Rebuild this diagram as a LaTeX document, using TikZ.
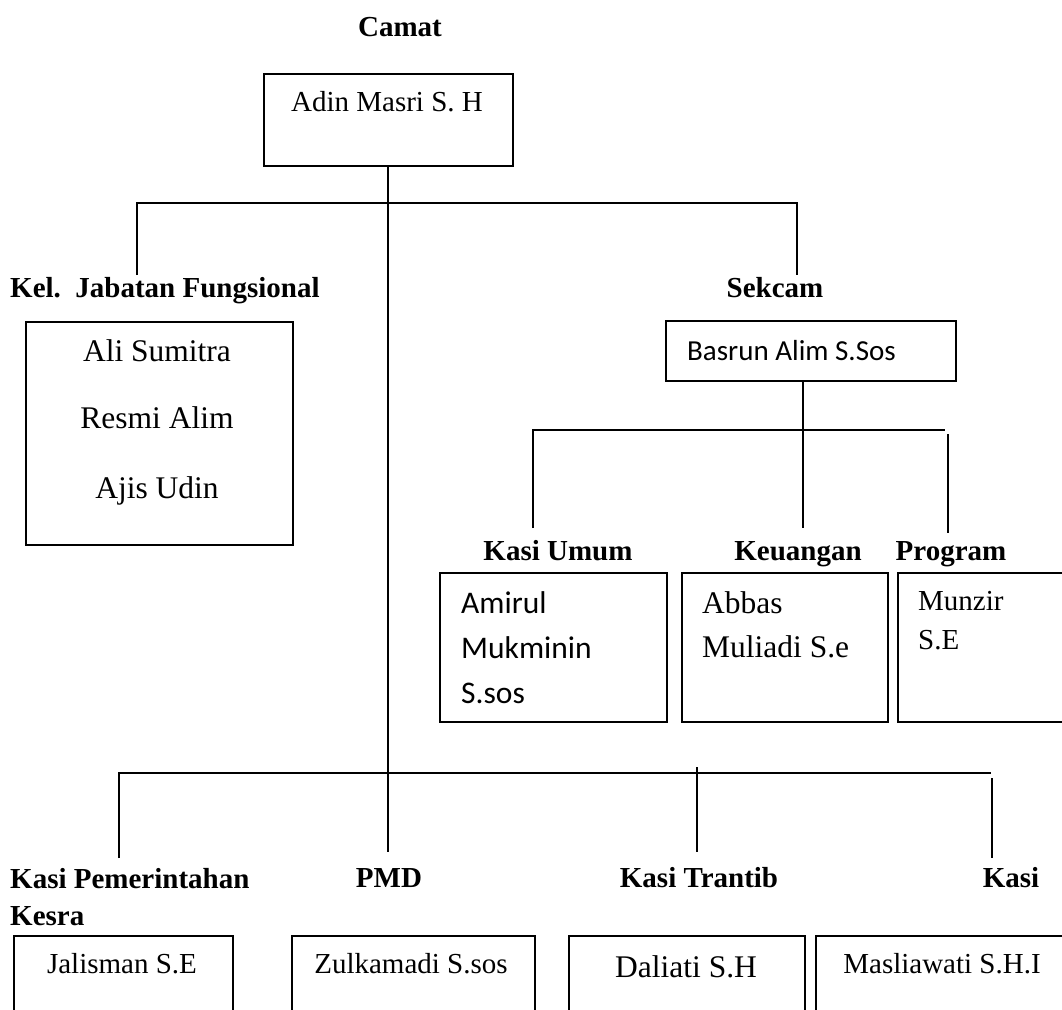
\documentclass[tikz,border=0pt]{standalone}
\usepackage{fontspec}
\setmainfont{Liberation Serif}
\newfontfamily\calibrifont{Carlito}

\begin{document}
\begin{tikzpicture}[
        x=1pt, y=-1pt,
        every node/.style={inner sep=0pt, font=\fontsize{29}{34}\selectfont},
        box/.style={draw, rectangle, line width=1.8pt, anchor=north west},
        jabatan/.style={font=\fontsize{29}{34}\selectfont\bfseries, anchor=base},
        nama/.style={anchor=base},
        namabesar/.style={anchor=base, font=\fontsize{31.5}{36}\selectfont},
        sans/.style={font=\fontsize{29}{34}\selectfont\calibrifont, anchor=base west},
        sansbesar/.style={font=\fontsize{31.5}{36}\selectfont\calibrifont, anchor=base west},
        link/.style={line width=1.3pt}
    ]
    \useasboundingbox (0,0) rectangle (1062,1009);
    \clip (0,0) rectangle (1062,1009);

    \node[jabatan] (camat) at (400,36) {Camat};
    \node[box, minimum width=249pt, minimum height=92pt] (adin) at (263,73) {};
    \node[nama] (adin-t) at (387,111) {Adin Masri S. H};

    \node[jabatan, anchor=base west] (fungsional) at (10,297) {Kel.\ \ Jabatan Fungsional};
    \node[box, minimum width=267pt, minimum height=223pt] (fungsional-box) at (25,321) {};
    \node[namabesar] (ali) at (157,361) {Ali Sumitra};
    \node[namabesar] (resmi) at (157,428) {Resmi Alim};
    \node[namabesar] (ajis) at (157,498) {Ajis Udin};

    \node[jabatan] (sekcam) at (775,297) {Sekcam};
    \node[box, minimum width=290pt, minimum height=60pt] (basrun) at (665,320) {};
    \node[sans] (basrun-t) at (687,360) {Basrun Alim S.Sos};

    \node[jabatan] (umum) at (558,560) {Kasi Umum};
    \node[jabatan] (keuangan) at (798,560) {Keuangan};
    \node[jabatan] (program) at (951,560) {Program};
    \node[box, minimum width=227pt, minimum height=149pt] (umum-box) at (439,572) {};
    \node[box, minimum width=206pt, minimum height=149pt] (keuangan-box) at (681,572) {};
    \node[box, minimum width=200pt, minimum height=149pt] (program-box) at (897,572) {};
    \node[sansbesar] (amirul) at (461,613) {Amirul};
    \node[sansbesar] (mukminin) at (461,658) {Mukminin};
    \node[sansbesar] (ssos) at (461,703) {S.sos};
    \node[namabesar, anchor=base west] (abbas) at (702,613) {Abbas};
    \node[namabesar, anchor=base west] (muliadi) at (702,657) {Muliadi S.e};
    \node[nama, anchor=base west] (munzir) at (918,610) {Munzir};
    \node[nama, anchor=base west] (munzir-se) at (918,649) {S.E};

    \node[jabatan, anchor=base west] (pemerintahan) at (10,888) {Kasi Pemerintahan};
    \node[jabatan, anchor=base west] (kesra) at (10,925) {Kesra};
    \node[jabatan] (pmd) at (389,887) {PMD};
    \node[jabatan] (trantib) at (699,887) {Kasi Trantib};
    \node[jabatan] (kasi) at (1011,887) {Kasi};
    \node[box, minimum width=219pt, minimum height=110pt] (pemerintahan-box) at (13,935) {};
    \node[box, minimum width=243pt, minimum height=110pt] (pmd-box) at (291,935) {};
    \node[box, minimum width=236pt, minimum height=110pt] (trantib-box) at (568,935) {};
    \node[box, minimum width=260pt, minimum height=110pt] (kasi-box) at (815,935) {};
    \node[nama] (jalisman) at (122,973) {Jalisman S.E};
    \node[nama] (zulkamadi) at (411,973) {Zulkamadi S.sos};
    \node[namabesar] (daliati) at (686,977) {Daliati S.H};
    \node[nama] (masliawati) at (942,973) {Masliawati S.H.I};

    % ujung garis
    \coordinate (fork1) at (388,203);
    \coordinate (fungsional-end) at (137,275);
    \coordinate (sekcam-end) at (797,275);
    \coordinate (fork2) at (803,430);
    \coordinate (bar2-r) at (945,430);
    \coordinate (umum-end) at (533,528);
    \coordinate (keuangan-end) at (803,528);
    \coordinate (program-top) at (948,434);
    \coordinate (program-end) at (948,533);
    \coordinate (bar3-r) at (991,773);
    \coordinate (pemerintahan-end) at (119,858);
    \coordinate (pmd-end) at (388,852);
    \coordinate (trantib-top) at (697,767);
    \coordinate (trantib-end) at (697,852);
    \coordinate (kasi-top) at (992,778);
    \coordinate (kasi-end) at (992,858);

    \draw[link] (adin.south -| pmd-end) -- (pmd-end);
    \draw[link] (fungsional-end) |- (fork1) -| (sekcam-end);
    \draw[link] (basrun.south -| keuangan-end) -- (keuangan-end);
    \draw[link] (umum-end) |- (bar2-r);
    \draw[link] (program-top) -- (program-end);
    \draw[link] (pemerintahan-end) |- (bar3-r);
    \draw[link] (trantib-top) -- (trantib-end);
    \draw[link] (kasi-top) -- (kasi-end);
\end{tikzpicture}
\end{document}
